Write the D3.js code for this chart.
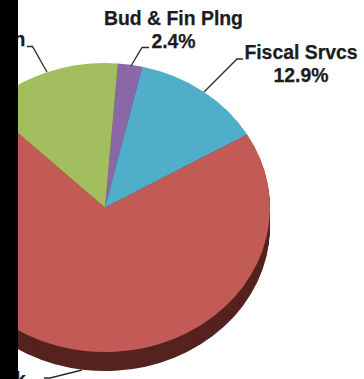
<!DOCTYPE html>
<html>
<head>
<meta charset="utf-8">
<script src="https://cdnjs.cloudflare.com/ajax/libs/d3/7.8.5/d3.min.js"></script>
<style>
html,body{margin:0;padding:0;background:#fff}
svg{display:block}
text{font-family:"Liberation Sans",Arial,sans-serif;font-weight:700;font-size:19.4px;fill:#1c1c1c;stroke:#1c1c1c;stroke-width:0.25px;text-anchor:middle}
</style>
</head>
<body>
<svg id="chart" width="364" height="379"></svg>
<script>
// Budget shares, clockwise from the purple slice
const categories = ["Bud & Fin Plng", "Fiscal Srvcs", "Bank", "Administration"];
const shares = [2.4, 12.9, 70.8, 13.9];
const sliceColors = ["#8a68a8", "#51aecb", "#c25a55", "#a3be5f"];
const wallColors = ["#46345a", "#285a68", "#56231f", "#55682f"];
const leaderPaths = {
  "Bud & Fin Plng": [[131,66],[142,47.5],[149,47.5]],
  "Fiscal Srvcs": [[204,92],[237,59],[243,59]],
  "Bank": [[82,370],[50,378],[44,378]],
  "Administration": [[47,72],[32.5,46.5],[27,46.5]]
};
const labelSpots = {
  "Bud & Fin Plng": {x:173.5, y:24.5},
  "Fiscal Srvcs": {x:301, y:59},
  "Bank": {x:2, y:386},
  "Administration": {x:-43, y:46}
};

const cx = 105, cy = 207.5, rx = 165, ry = 144.5, depth = 19;
const startAngle = 4.5 * Math.PI / 180;

const svg = d3.select("#chart");
const rows = categories.map((c, i) => ({name: c, value: shares[i], i}));
const pie = d3.pie().value(d => d.value).sort(null)
  .startAngle(startAngle).endAngle(startAngle + 2 * Math.PI);
const arcs = pie(rows);
const arc = d3.arc().innerRadius(0).outerRadius(1);

// Extruded wall: the slices stacked downward in their darker shades
const wall = svg.append("g");
d3.range(depth, 0, -1).forEach(off => {
  wall.append("g")
    .attr("transform", `translate(${cx},${cy + off}) scale(${rx},${ry})`)
    .selectAll("path").data(arcs).join("path")
    .attr("d", arc)
    .attr("fill", d => wallColors[d.data.i]);
});

// Top face
svg.append("g")
  .attr("transform", `translate(${cx},${cy}) scale(${rx},${ry})`)
  .selectAll("path").data(arcs).join("path")
  .attr("d", arc)
  .attr("fill", d => sliceColors[d.data.i]);

// Leader lines
const line = d3.line();
svg.append("g").selectAll("path").data(categories).join("path")
  .attr("d", c => line(leaderPaths[c]))
  .attr("fill", "none").attr("stroke", "#2a2a2a").attr("stroke-width", 1.3);

// Name and percentage labels
const labels = svg.append("g").selectAll("text").data(rows).join("text")
  .attr("x", d => labelSpots[d.name].x)
  .attr("y", d => labelSpots[d.name].y);
labels.append("tspan").text(d => d.name);
labels.append("tspan")
  .attr("x", d => labelSpots[d.name].x)
  .attr("dy", 23)
  .text(d => d3.format(".1f")(d.value) + "%");

// Black band down the left side
svg.append("rect").attr("x", 0).attr("y", 0).attr("width", 18).attr("height", 379).attr("fill", "#000");
</script>
</body>
</html>
